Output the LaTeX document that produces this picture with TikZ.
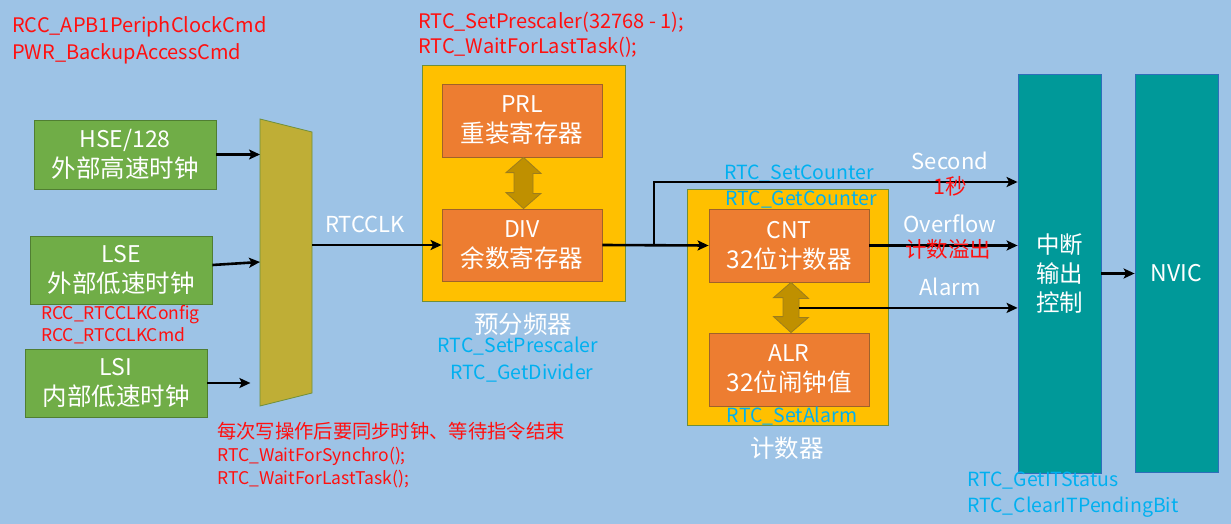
\documentclass[tikz,border=0pt]{standalone}
\usepackage{fontspec}
\setmainfont{Noto Sans CJK SC}
\usetikzlibrary{arrows.meta,calc}
\definecolor{bgblue}{HTML}{9DC3E6}
\definecolor{gfill}{HTML}{70AD47}
\definecolor{gline}{HTML}{507E32}
\definecolor{muxfill}{HTML}{BFAE36}
\definecolor{yfill}{HTML}{FFC000}
\definecolor{yline}{HTML}{6F8F3A}
\definecolor{ofill}{HTML}{ED7D31}
\definecolor{oline}{HTML}{A0622A}
\definecolor{tfill}{HTML}{009999}
\definecolor{tline}{HTML}{2F6EBA}
\definecolor{dafill}{HTML}{BF9000}
\definecolor{daline}{HTML}{9C7D1E}
\definecolor{redtxt}{HTML}{FF1010}
\definecolor{cyantxt}{HTML}{00B0F0}
\newcommand{\cjkbig}{\fontsize{24.5}{30}\selectfont}
\tikzset{
  box/.style={draw, line width=0.8pt, inner sep=0pt, align=center, text=white,
    font=\fontsize{23}{30}\selectfont},
  gbox/.style={box, fill=gfill, draw=gline, minimum width=182pt},
  ybox/.style={box, fill=yfill, draw=yline},
  obox/.style={box, fill=ofill, draw=oline, minimum width=160pt, minimum height=73pt},
  tbox/.style={box, fill=tfill, draw=tline, minimum width=83pt},
  arr/.style={line width=2.6pt, -{Stealth[length=11pt,width=10pt,inset=2.5pt]}},
  dbl/.style={fill=dafill, draw=daline, line width=0.8pt},
  redl/.style={inner sep=0pt, text=redtxt, font=\fontsize{20}{24}\selectfont, text height=16pt, text depth=2pt},
  redc/.style={inner sep=0pt, text=redtxt, font=\fontsize{19.3}{24}\selectfont, text height=15.4pt, text depth=2pt},
  redm/.style={inner sep=0pt, text=redtxt, font=\fontsize{21.5}{24}\selectfont, text height=17.2pt, text depth=2pt},
  reds/.style={inner sep=0pt, text=redtxt, font=\fontsize{17.5}{20}\selectfont, text height=14pt, text depth=1.75pt},
  cyanl/.style={inner sep=0pt, text=cyantxt, font=\fontsize{19.5}{22}\selectfont, text height=15.6pt, text depth=1.95pt},
  whitel/.style={inner sep=0pt, text=white, font=\fontsize{22}{26}\selectfont, text height=17.6pt, text depth=2.2pt},
  whitec/.style={inner sep=0pt, text=white, font=\fontsize{24.5}{26}\selectfont, text height=19.6pt, text depth=2.45pt},
}
\begin{document}
\begin{tikzpicture}[x=1pt,y=-1pt]
\fill[bgblue] (0,0) rectangle (1231,524);
\useasboundingbox (0,0) rectangle (1231,524);

% top red text
\node[redl, anchor=west] (t1) at (12,26) {RCC\_APB1PeriphClockCmd};
\node[redl, anchor=west] (t2) at (12,53) {PWR\_BackupAccessCmd};
\node[redl, anchor=west] (t3) at (418,22) {RTC\_SetPrescaler(32768 - 1);};
\node[redl, anchor=west] (t4) at (418,47) {RTC\_WaitForLastTask();};

% clock sources
\node[gbox, minimum height=69pt] (hse) at (125,154.5) {HSE/128\\{\cjkbig 外部高速时钟}};
\node[gbox, minimum height=68pt] (lse) at (121,270) {LSE\\{\cjkbig 外部低速时钟}};
\node[gbox, minimum height=68pt] (lsi) at (116,383) {LSI\\{\cjkbig 内部低速时钟}};
\node[reds, anchor=west] (cfg1) at (41,313) {RCC\_RTCCLKConfig};
\node[reds, anchor=west] (cfg2) at (41,335) {RCC\_RTCCLKCmd};

% mux
\filldraw[fill=muxfill, draw=yline, line width=0.8pt] (260,119) -- (312,132) -- (312,393) -- (260,406) -- cycle;
\coordinate (muxin) at (260,262);
\coordinate (muxout) at (312,245);

% prescaler
\node[ybox, minimum width=203pt, minimum height=236pt] (pre) at (523.5,183) {};
\node[obox] (prl) at (522,120.5) {PRL\\{\cjkbig 重装寄存器}};
\node[obox, minimum height=72pt] (div) at (522,245) {DIV\\{\cjkbig 余数寄存器}};
\node[whitec] (prelbl) at (523,325) {预分频器};
\node[cyanl] (c1) at (518,346) {RTC\_SetPrescaler};
\node[cyanl] (c2) at (522,373) {RTC\_GetDivider};
\path[dbl] ([xshift=1.5pt]prl.south) -- ++(17.5,16) -- ++(-8,0) -- ++(0,20) -- ++(8,0)
  -- ([xshift=1.5pt]div.north) -- ++(-17.5,-16) -- ++(8,0) -- ++(0,-20) -- ++(-8,0) -- cycle;

% counter
\node[ybox, minimum width=201pt, minimum height=236pt] (ctr) at (787.5,307) {};
\node[obox] (cnt) at (789,245.5) {CNT\\{\cjkbig 32位计数器}};
\node[obox] (alr) at (789,369.5) {ALR\\{\cjkbig 32位闹钟值}};
\path[dbl] ([xshift=2pt]cnt.south) -- ++(17.5,16) -- ++(-9.5,0) -- ++(0,19) -- ++(9.5,0)
  -- ([xshift=2pt]alr.north) -- ++(-17.5,-16) -- ++(9.5,0) -- ++(0,-19) -- ++(-9.5,0) -- cycle;
\coordinate (alarmsrc) at ($(cnt.south)+(10,25.5)$);
\node[cyanl] (c3) at (799,173) {RTC\_SetCounter};
\node[cyanl] (c4) at (801,199) {RTC\_GetCounter};
\node[cyanl] (c5) at (792,416) {RTC\_SetAlarm};
\node[whitec] (ctrlbl) at (787,449) {计数器};

% interrupt + NVIC
\node[tbox, minimum height=399pt, font=\fontsize{23.5}{29}\selectfont] (intr) at (1059.5,273.5) {中断\\输出\\控制};
\node[tbox, minimum height=398pt] (nvic) at (1176.5,273) {NVIC};
\node[cyanl, anchor=west] (c6) at (967,480) {RTC\_GetITStatus};
\node[cyanl, anchor=west] (c7) at (967,506) {RTC\_ClearITPendingBit};

% bottom red
\node[redc, anchor=west] (b1) at (217,432) {每次写操作后要同步时钟、等待指令结束};
\node[reds, anchor=west] (b2) at (217,455) {RTC\_WaitForSynchro();};
\node[reds, anchor=west] (b3) at (217,478) {RTC\_WaitForLastTask();};

% connectors
\draw[arr] (hse.east) -- (hse.east -| muxin);
\draw[arr] ([yshift=5pt]lse.east) -- (muxin);
\draw[arr] (lsi.east) -- ++(43,0);
\draw[arr] (muxout) -- (div.west);
\node[whitel] (rtcclk) at (365,225) {RTCCLK};
\coordinate (split) at (654,245);
\draw[arr] (div.east) -- (cnt.west);
\draw[arr] (split) -- (654,182) -- (654,182 -| intr.west);
\draw[arr] (cnt.east) -- (cnt.east -| intr.west);
\draw[arr] (alarmsrc) -- (alarmsrc -| intr.west);
\draw[arr] (intr.east) -- (intr.east -| nvic.west);

% signal labels
\node[whitel] (sec) at (950,162) {Second};
\node[redm] (sec2) at (950,187) {1秒};
\node[whitel] (ovf) at (950,225) {Overflow};
\node[redm] (ovf2) at (948,250) {计数溢出};
\node[whitel] (alm) at (950,288) {Alarm};
\end{tikzpicture}
\end{document}
